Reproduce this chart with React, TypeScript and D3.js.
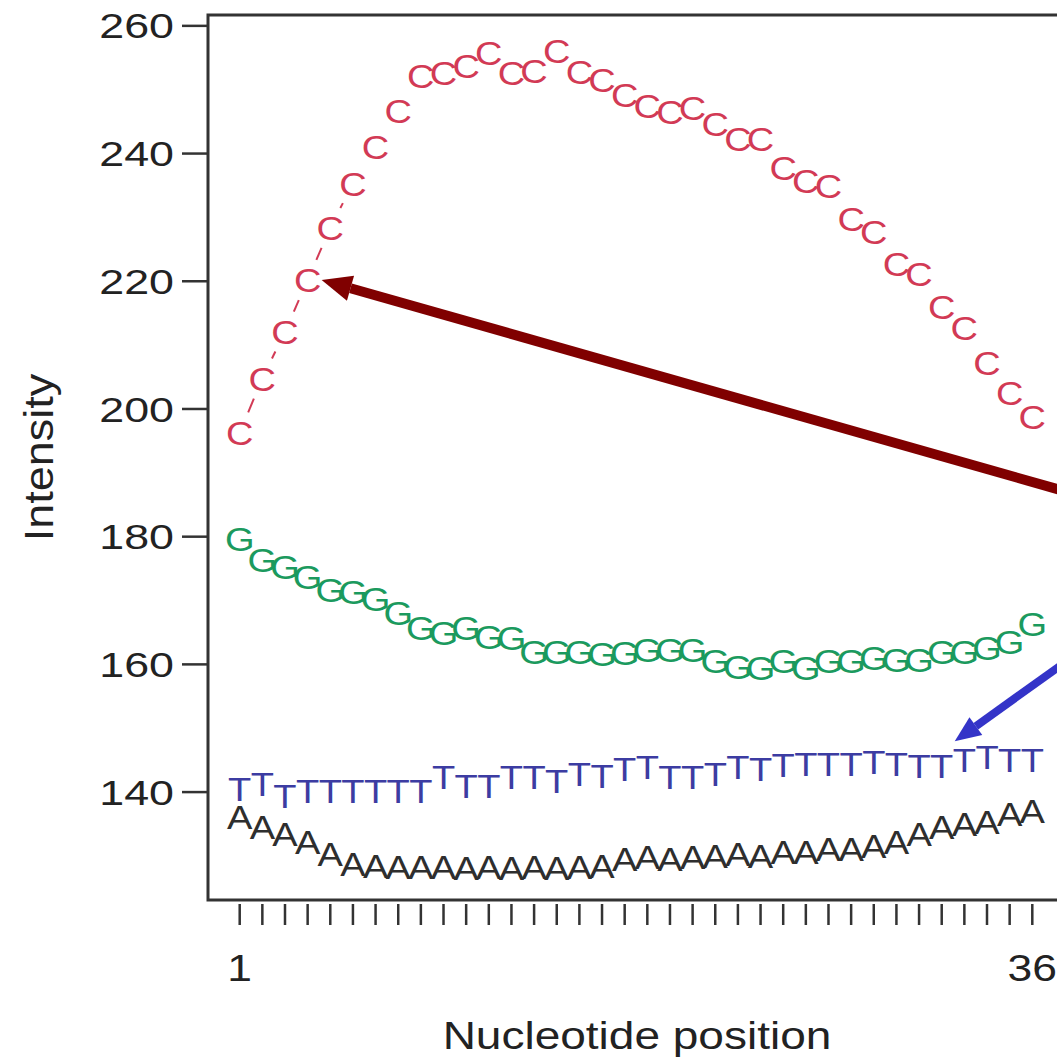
import React, { useEffect, useRef } from "react";
import * as d3 from "d3";

// nucleotide positions along the read
const positions = [
  1, 2, 3, 4, 5, 6, 7, 8, 9, 10, 11, 12, 13, 14, 15, 16, 17, 18,
  19, 20, 21, 22, 23, 24, 25, 26, 27, 28, 29, 30, 31, 32, 33, 34, 35, 36,
];

// mean intensity per base
const cValues = [
  196.3, 204.8, 212.1, 220.2, 228.4, 235.3, 241.0, 246.7, 252.2, 252.7, 253.7, 255.8,
  252.7, 252.9, 256.1, 252.8, 251.6, 249.2, 247.5, 246.5, 247.2, 244.7, 242.3, 242.3,
  237.8, 235.8, 235.0, 229.8, 227.7, 222.8, 221.2, 216.0, 212.7, 207.2, 202.5, 198.8,
];
const gValues = [
  179.6, 176.4, 175.3, 173.8, 171.7, 171.4, 170.2, 168.1, 165.8, 165.0, 165.8, 164.4,
  164.2, 161.9, 161.9, 162.0, 161.6, 161.8, 162.3, 162.3, 162.3, 160.5, 159.7, 159.5,
  160.5, 159.5, 160.5, 160.5, 161.1, 160.8, 160.8, 161.9, 162.0, 162.6, 163.6, 166.3,
];
const tValues = [
  140.5, 141.3, 139.4, 140.2, 140.2, 140.2, 140.2, 140.2, 140.2, 142.4, 141.0, 141.0,
  142.4, 142.4, 141.8, 142.8, 142.5, 143.6, 144.0, 142.4, 142.4, 142.8, 144.0, 143.6,
  144.3, 144.5, 144.5, 144.5, 144.8, 144.5, 144.2, 144.2, 145.0, 145.5, 145.0, 145.0,
];
const aValues = [
  136.1, 134.5, 133.4, 132.2, 130.3, 128.8, 128.5, 128.3, 128.3, 128.3, 128.2, 128.3,
  128.2, 128.3, 128.2, 128.3, 128.4, 129.6, 129.8, 129.5, 129.8, 130.0, 130.3, 130.0,
  130.6, 130.6, 131.1, 131.1, 131.6, 132.2, 133.4, 134.5, 135.0, 135.3, 136.6, 137.0,
];

const bases = ["C", "G", "T", "A"];
const baseColors = ["#d23a55", "#1b9a5e", "#3c3ca2", "#2e2e2e"];

const yTicks = [140, 160, 180, 200, 220, 240, 260];
const xTickLabels = [1, 36];

const App = () => {
  const ref = useRef(null);

  useEffect(() => {
    const root = d3.select(ref.current);
    root.selectAll("*").remove();

    const width = 1057;
    const height = 1060;
    const left = 208;
    const right = 1064; // box runs past the right edge, as in the source
    const top = 15;
    const bottom = 900;
    const stretch = 1.28; // the original figure is widened a little

    const font = "'Liberation Sans', Arial, Helvetica, sans-serif";

    const svg = root
      .append("svg")
      .attr("width", width)
      .attr("height", height)
      .style("display", "block")
      .style("background", "#fff");

    // R style padded limits
    const x = d3.scaleLinear().domain([-0.4, 37.4]).range([left, right]);
    const y = d3.scaleLinear().domain([123.1, 261.7]).range([bottom, top]);

    // box
    svg.append("rect")
      .attr("x", left)
      .attr("y", top)
      .attr("width", right - left)
      .attr("height", bottom - top)
      .attr("fill", "none")
      .attr("stroke", "#333")
      .attr("stroke-width", 3);

    // y axis ticks + labels
    const yAxis = svg.append("g");
    yAxis.selectAll("line")
      .data(yTicks)
      .enter()
      .append("line")
      .attr("x1", left - 26)
      .attr("x2", left)
      .attr("y1", d => y(d))
      .attr("y2", d => y(d))
      .attr("stroke", "#333")
      .attr("stroke-width", 2.5);
    yAxis.selectAll("text")
      .data(yTicks)
      .enter()
      .append("text")
      .attr("transform", d => `translate(${left - 34},${y(d)}) scale(${stretch},1)`)
      .attr("dy", "0.36em")
      .attr("text-anchor", "end")
      .attr("font-family", font)
      .attr("font-size", 35)
      .attr("fill", "#222")
      .text(d => d);

    // x axis ticks at every position
    const xAxis = svg.append("g");
    xAxis.selectAll("line")
      .data(positions)
      .enter()
      .append("line")
      .attr("x1", d => x(d))
      .attr("x2", d => x(d))
      .attr("y1", bottom + 4)
      .attr("y2", bottom + 25)
      .attr("stroke", "#333")
      .attr("stroke-width", 2.5);
    xAxis.selectAll("text")
      .data(xTickLabels)
      .enter()
      .append("text")
      .attr("transform", d => `translate(${x(d)},${bottom + 68}) scale(1.2,1)`)
      .attr("dy", "0.36em")
      .attr("text-anchor", "middle")
      .attr("font-family", font)
      .attr("font-size", 37)
      .attr("fill", "#222")
      .text(d => d);

    // axis titles
    svg.append("text")
      .attr("transform", `translate(637,${bottom + 135}) scale(1.18,1)`)
      .attr("dy", "0.36em")
      .attr("text-anchor", "middle")
      .attr("font-family", font)
      .attr("font-size", 39)
      .attr("fill", "#222")
      .text("Nucleotide position");

    svg.append("text")
      .attr("transform", `translate(38,${(top + bottom) / 2}) scale(0.92,1) rotate(-90)`)
      .attr("dy", "0.36em")
      .attr("text-anchor", "middle")
      .attr("font-family", font)
      .attr("font-size", 45)
      .attr("fill", "#222")
      .text("Intensity");

    // series: letters joined by gapped segments (type = "b")
    const series = [cValues, gValues, tValues, aValues];
    const gap = 22;
    series.forEach((vals, si) => {
      const pts = vals.map((v, i) => [x(positions[i]), y(v)]);
      const g = svg.append("g");

      const segs = [];
      for (let i = 0; i < pts.length - 1; i++) {
        const [x0, y0] = pts[i];
        const [x1, y1] = pts[i + 1];
        const len = Math.hypot(x1 - x0, y1 - y0);
        if (len > 2 * gap) {
          const ux = (x1 - x0) / len;
          const uy = (y1 - y0) / len;
          segs.push([x0 + ux * gap, y0 + uy * gap, x1 - ux * gap, y1 - uy * gap]);
        }
      }
      g.selectAll("line")
        .data(segs)
        .enter()
        .append("line")
        .attr("x1", d => d[0])
        .attr("y1", d => d[1])
        .attr("x2", d => d[2])
        .attr("y2", d => d[3])
        .attr("stroke", baseColors[si])
        .attr("stroke-width", 2);

      g.selectAll("text")
        .data(pts)
        .enter()
        .append("text")
        .attr("transform", d => `translate(${d[0]},${d[1]}) scale(1.12,1)`)
        .attr("dy", "0.36em")
        .attr("text-anchor", "middle")
        .attr("font-family", font)
        .attr("font-size", 34)
        .attr("fill", baseColors[si])
        .text(bases[si]);
    });

    // annotation arrows
    const arrow = (tip, tail, color, w, headLen, headHalf) => {
      const dx = tail[0] - tip[0];
      const dy = tail[1] - tip[1];
      const len = Math.hypot(dx, dy);
      const ux = dx / len;
      const uy = dy / len;
      const bx = tip[0] + ux * headLen;
      const by = tip[1] + uy * headLen;
      svg.append("line")
        .attr("x1", bx)
        .attr("y1", by)
        .attr("x2", tail[0])
        .attr("y2", tail[1])
        .attr("stroke", color)
        .attr("stroke-width", w);
      svg.append("path")
        .attr("d", d3.line()([
          tip,
          [bx - uy * headHalf, by + ux * headHalf],
          [bx + uy * headHalf, by - ux * headHalf],
        ]) + "Z")
        .attr("fill", color);
    };

    const redTip = [x(positions[3]) + 14, y(cValues[3])];
    arrow(redTip, [redTip[0] + 760, redTip[1] + 216], "#800000", 10, 30, 13);

    const blueTip = [x(positions[31]) + 13, y(tValues[31]) - 24];
    arrow(blueTip, [blueTip[0] + 130, blueTip[1] - 93], "#3434c8", 8, 26, 11);
  }, []);

  return <div ref={ref} style={{ position: "absolute", left: 0, top: 0 }}></div>;
};

export default App;
